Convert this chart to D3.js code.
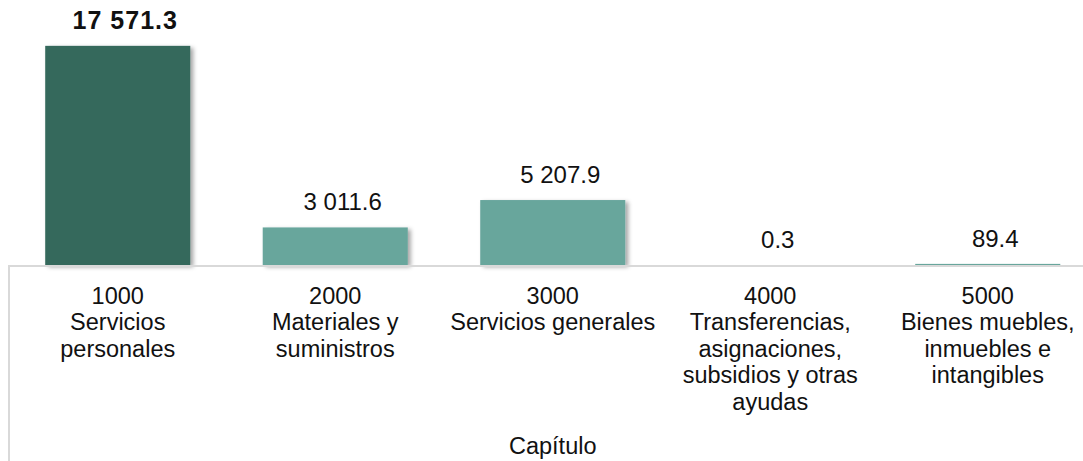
<!DOCTYPE html>
<html>
<head>
<meta charset="utf-8">
<script src="https://cdn.jsdelivr.net/npm/d3@7"></script>
<style>
	body { margin: 0; background: #fff; }
	svg { display: block; font-family: Arial, "Liberation Sans", sans-serif; }
</style>
</head>
<body>
<div id="chart"></div>
<script>
// data
const codes = ['1000', '2000', '3000', '4000', '5000'];
const names = [
	['Servicios', 'personales'],
	['Materiales y', 'suministros'],
	['Servicios generales'],
	['Transferencias,', 'asignaciones,', 'subsidios y otras', 'ayudas'],
	['Bienes muebles,', 'inmuebles e', 'intangibles']
];
const values = [17571.3, 3011.6, 5207.9, 0.3, 89.4];
const axisTitle = 'Capítulo';

const width = 1083;
const height = 461;
const margin = { top: 40.5, left: 9, bottom: 196 };
const baseY = height - margin.bottom;
const colors = ['#34695b', '#68a69c'];
const labelShift = 7.5; // value labels sit a little right of the bar centre

const fmt = d3.formatLocale({ decimal: '.', thousands: ' ', grouping: [3], currency: ['', ''] }).format(',.1f');

const data = codes.map((c, i) => ({ code: c, name: names[i], value: values[i] }));

const svg = d3.select('#chart').append('svg')
	.attr('width', width)
	.attr('height', height);

// soft shadow like the office chart
const defs = svg.append('defs');
defs.append('filter')
	.attr('id', 'shadow')
	.attr('x', '-10%').attr('y', '-10%')
	.attr('width', '130%').attr('height', '130%')
	.append('feDropShadow')
		.attr('dx', 3).attr('dy', 2)
		.attr('stdDeviation', 2)
		.attr('flood-color', '#000')
		.attr('flood-opacity', 0.35);

const x = d3.scaleBand()
	.domain(codes)
	.range([margin.left, margin.left + 217.5 * codes.length])
	.paddingInner(0.333)
	.paddingOuter(0.1665);

const y = d3.scaleLinear()
	.domain([0, 18000])
	.range([baseY, margin.top]);

// bars
svg.append('g')
	.selectAll('rect')
	.data(data)
	.enter().append('rect')
		.attr('x', d => x(d.code))
		.attr('y', d => y(d.value))
		.attr('width', x.bandwidth())
		.attr('height', d => y(0) - y(d.value))
		.attr('fill', (d, i) => i === 0 ? colors[0] : colors[1])
		.attr('filter', d => d.value > 1000 ? 'url(#shadow)' : null);

// value labels
svg.append('g')
	.selectAll('text')
	.data(data)
	.enter().append('text')
		.attr('x', d => x(d.code) + x.bandwidth() / 2 + labelShift)
		.attr('y', d => y(d.value) - 17)
		.attr('text-anchor', 'middle')
		.attr('font-size', (d, i) => i === 0 ? 25 : 24)
		.attr('letter-spacing', (d, i) => i === 0 ? 1 : 0)
		.attr('font-weight', (d, i) => i === 0 ? 'bold' : 'normal')
		.attr('fill', '#111')
		.text(d => fmt(d.value));

// axis frame: baseline and left edge
svg.append('line')
	.attr('x1', margin.left - 1).attr('x2', width)
	.attr('y1', baseY + 1).attr('y2', baseY + 1)
	.attr('stroke', '#d9d9d9').attr('stroke-width', 2);
svg.append('line')
	.attr('x1', margin.left).attr('x2', margin.left)
	.attr('y1', baseY).attr('y2', height)
	.attr('stroke', '#d9d9d9').attr('stroke-width', 2);

// category labels
const cats = svg.append('g')
	.selectAll('text')
	.data(data)
	.enter().append('text')
		.attr('text-anchor', 'middle')
		.attr('font-size', 23.5)
		.attr('fill', '#111');
cats.selectAll('tspan')
	.data(d => [d.code, ...d.name].map(t => ({ t, cx: x(d.code) + x.bandwidth() / 2 })))
	.enter().append('tspan')
		.attr('x', d => d.cx)
		.attr('y', (d, i) => baseY + 38.5 + i * 26.5)
		.text(d => d.t);

// axis title
svg.append('text')
	.attr('x', (x.range()[0] + x.range()[1]) / 2)
	.attr('y', 454)
	.attr('text-anchor', 'middle')
	.attr('font-size', 23.5)
	.attr('fill', '#111')
	.text(axisTitle);
</script>
</body>
</html>
